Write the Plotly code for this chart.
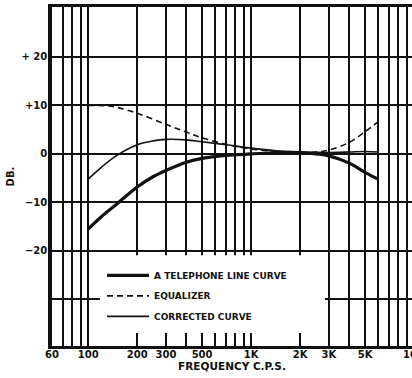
import numpy as np
import plotly.graph_objects as go

# Frequency response data (dB vs. frequency in c.p.s.)
line_freq = [100, 120, 150, 200, 250, 300, 400, 500, 700, 1000, 1500, 2000, 2500, 3000, 4000, 5000, 6000]
line_db = [-15.5, -13.0, -10.3, -6.8, -4.7, -3.4, -1.7, -0.9, -0.3, 0.0, 0.3, 0.3, 0.0, -0.4, -1.9, -3.8, -5.2]

eq_freq = [100, 130, 150, 200, 300, 400, 500, 700, 1000, 1500, 2000, 2500, 3000, 4000, 5000, 6000]
eq_db = [10.0, 9.9, 9.6, 8.4, 6.1, 4.5, 3.3, 2.0, 1.0, 0.5, 0.3, 0.4, 0.8, 2.4, 4.6, 6.6]

corr_freq = [100, 120, 150, 200, 250, 300, 400, 500, 700, 1000, 1500, 2000, 3000, 4000, 5000, 6000]
corr_db = [-5.2, -2.8, -0.3, 1.9, 2.7, 3.0, 2.9, 2.5, 1.9, 1.2, 0.6, 0.4, 0.3, 0.4, 0.5, 0.4]

# Axis ticks and grid
x_grid = [60, 70, 80, 90, 100, 200, 300, 400, 500, 600, 700, 800, 900,
          1000, 2000, 3000, 4000, 5000, 6000, 7000, 8000, 9000]
x_labels = {60: "60", 100: "100", 200: "200", 300: "300", 500: "500",
            1000: "1K", 2000: "2K", 3000: "3K", 5000: "5K"}
y_grid = [20, 10, 0, -10, -20, -30]
y_labels = ["+ 20", "+10", "0", "\u221210", "\u221220", ""]

INK = "#111111"
FONT = "DejaVu Sans"

fig = go.Figure()
fig.add_trace(go.Scatter(x=line_freq, y=line_db, mode="lines", name="A TELEPHONE LINE CURVE",
                         legendgroup="a", line=dict(color=INK, width=3.2, shape="spline")))
fig.add_trace(go.Scatter(x=eq_freq, y=eq_db, mode="lines", name="EQUALIZER",
                         legendgroup="b", line=dict(color=INK, width=1.6, dash="6px,4px", shape="spline")))
fig.add_trace(go.Scatter(x=corr_freq, y=corr_db, mode="lines", name="CORRECTED CURVE",
                         legendgroup="c", line=dict(color=INK, width=1.6, shape="spline")))

x_lo = np.log10(60)
x_hi = x_lo + 360 / 163

fig.update_xaxes(
    type="log", range=[x_lo, x_hi],
    tickvals=x_grid, ticktext=[x_labels.get(v, "") for v in x_grid],
    showgrid=True, gridcolor=INK, gridwidth=1.5,
    showline=True, linecolor=INK, linewidth=3, mirror=True,
    ticks="", zeroline=False, ticklabelstandoff=-3,
    tickfont=dict(family=FONT, size=10, color=INK, weight="bold"),
    title=dict(text="FREQUENCY C.P.S.", standoff=0,
               font=dict(family=FONT, size=10.5, color=INK, weight="bold")),
)
fig.update_yaxes(
    range=[-39.6, 30.3],
    tickvals=y_grid, ticktext=y_labels,
    showgrid=True, gridcolor=INK, gridwidth=1.5,
    showline=True, linecolor=INK, linewidth=3.5, mirror=False,
    ticks="", zeroline=False, ticklabelstandoff=-1,
    tickfont=dict(family=FONT, size=10, color=INK, weight="bold"),
    title=dict(text="DB.", standoff=6,
               font=dict(family=FONT, size=10, color=INK, weight="bold")),
)

# White panel behind the legend, interrupting the grid
fig.add_shape(type="rect", xref="paper", yref="paper",
              x0=0.133, x1=0.758, y0=0.038, y1=0.268,
              fillcolor="white", line=dict(width=0), layer="above")

# 10K label at the right edge of the scale
fig.add_annotation(text="10K", xref="paper", yref="paper",
                   x=(4 - x_lo) / (x_hi - x_lo), y=0, yanchor="top", xanchor="center",
                   yshift=-1, showarrow=False,
                   font=dict(family=FONT, size=10, color=INK, weight="bold"))

fig.update_layout(
    width=412, height=378,
    margin=dict(l=52, r=0, t=7, b=32),
    paper_bgcolor="white", plot_bgcolor="white",
    showlegend=True,
    legend=dict(x=0.139, y=0.251, xanchor="left", yanchor="top",
                bgcolor="rgba(0,0,0,0)", borderwidth=0,
                itemwidth=42, tracegroupgap=1.5,
                font=dict(family=FONT, size=9, color=INK, weight="bold")),
)

fig.write_html("out.html")
